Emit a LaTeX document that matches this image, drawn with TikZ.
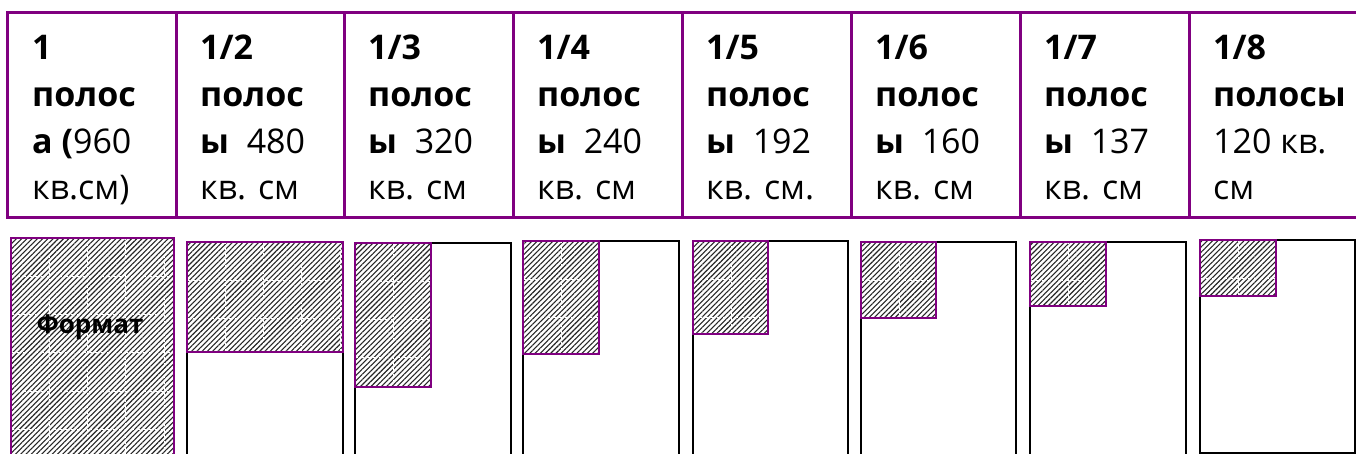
\documentclass[tikz,border=0pt]{standalone}
\usepackage{fontspec}
\setmainfont{Open Sans}
\newfontfamily\labelfont{Open Sans}
\usetikzlibrary{patterns.meta}
\definecolor{adpurple}{HTML}{800080}
\tikzset{
  cell/.style={anchor=base west,align=left,inner sep=0pt,font=\fontsize{34}{46.7}\selectfont},
  rule/.style={draw=adpurple,line width=3pt},
  page/.style={draw=black,line width=1.4pt,fill=white},
  hatch/.style={pattern={Lines[angle=45,distance=3.7pt,line width=1.1pt]},pattern color=black!85},
  gridline/.style={white,line width=0.9pt,dash pattern=on 3pt off 3pt},
  frame/.style={draw=adpurple,line width=2pt},
}

\begin{document}
\begin{tikzpicture}[x=1pt,y=-1pt]
\useasboundingbox (0,0) rectangle (1356,454);
\clip (0,0) rectangle (1356,454);
% header table
\draw[rule] (1356,13) -- (7,13) -- (7,218) -- (1356,218);
\foreach \x in {176,344,513,682,851,1020,1189}
  \draw[rule] (\x,13) -- (\x,218);
\node[cell] (c1) at (32,200) {\textbf{1}\\\textbf{полос}\\\textbf{а (}960\\кв.см)};
\node[cell] (c2) at (200,200) {\textbf{1/2}\\\textbf{полос}\\\textbf{ы}\ \ 480\\кв. см};
\node[cell] (c3) at (368,200) {\textbf{1/3}\\\textbf{полос}\\\textbf{ы}\ \ 320\\кв. см};
\node[cell] (c4) at (537,200) {\textbf{1/4}\\\textbf{полос}\\\textbf{ы}\ \ 240\\кв. см};
\node[cell] (c5) at (706,200) {\textbf{1/5}\\\textbf{полос}\\\textbf{ы}\ \ 192\\кв. см.};
\node[cell] (c6) at (875,200) {\textbf{1/6}\\\textbf{полос}\\\textbf{ы}\ \ 160\\кв. см};
\node[cell] (c7) at (1044,200) {\textbf{1/7}\\\textbf{полос}\\\textbf{ы}\ \ 137\\кв. см};
\node[cell] (c8) at (1213,200) {\textbf{1/8}\\\textbf{полосы}\\120 кв.\\см};
% pages with the ad area
\foreach \l/\t/\r/\b/\hr/\hb in {11/238/174/460/174/460, 187/242/343/460/343/352,
    355/243/511/460/431/387, 523/241/679/460/599/354, 693/241/848/460/768/334,
    861/242/1016/460/936/318, 1030/242/1186/460/1106/306, 1200/240/1355/453/1276/296} {
  \draw[page] (\l,\t) rectangle (\r,\b);
  \fill[hatch] (\l,\t) rectangle (\hr,\hb);
  \begin{scope}
    \clip (\l,\t) rectangle (\hr,\hb);
    \draw[gridline,shift={(\l,\t)}] (0,0) grid[step=38.3pt] (200,260);
  \end{scope}
  \draw[frame] (\l,\t) rectangle (\hr,\hb);
}
\node[font=\labelfont\bfseries\fontsize{26}{30}\selectfont] (fmt) at (90,327) {Формат};
\end{tikzpicture}
\end{document}
